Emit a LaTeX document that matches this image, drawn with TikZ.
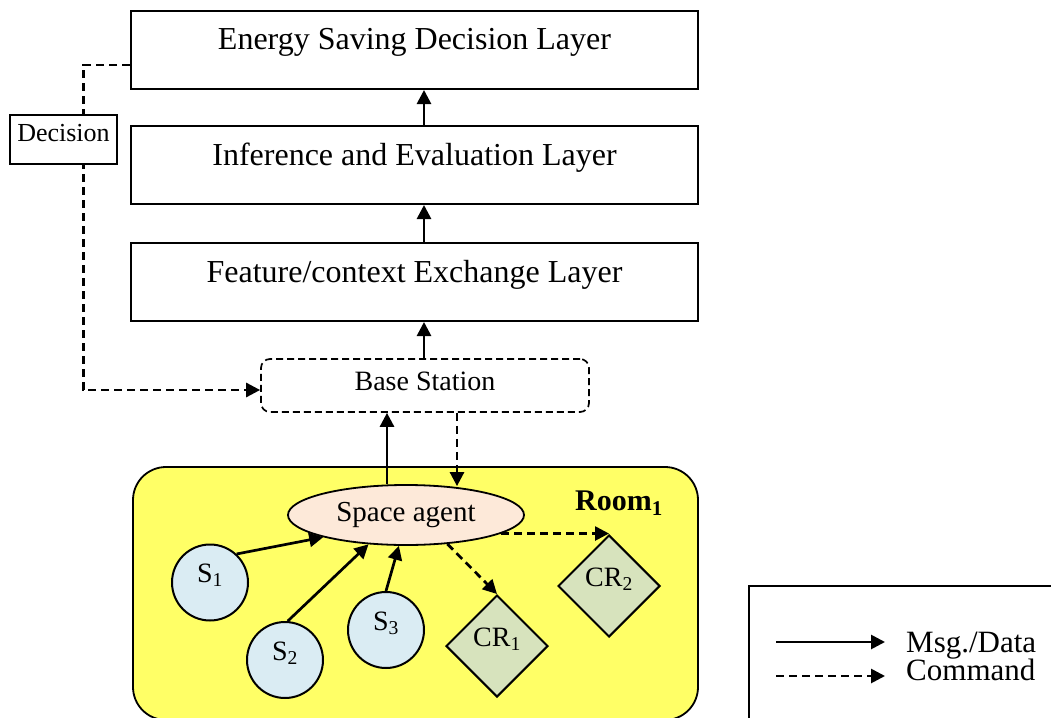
\documentclass[tikz,border=0pt]{standalone}
\usepackage{fontspec}
\setmainfont{Liberation Serif}
\usetikzlibrary{arrows.meta,shapes.geometric}

\definecolor{roomfill}{RGB}{255,255,102}
\definecolor{agentfill}{RGB}{253,233,217}
\definecolor{sensorfill}{RGB}{218,236,243}
\definecolor{ctrlfill}{RGB}{215,227,189}

\tikzset{
  layerbox/.style={draw, line width=2pt, fill=white, minimum width=567pt,
    inner xsep=0pt, inner ysep=0pt, text height=39pt, text depth=39pt,
    font=\fontsize{32}{38}\selectfont},
  stationbox/.style={draw, line width=1.7pt, dash pattern=on 7pt off 4pt,
    rounded corners=9pt, minimum width=328pt, inner xsep=0pt, inner ysep=0pt,
    text height=31pt, text depth=22pt, font=\fontsize{28}{34}\selectfont},
  tagbox/.style={draw, line width=1.8pt, fill=white, minimum width=107pt,
    inner xsep=0pt, inner ysep=0pt, text height=26pt, text depth=23pt,
    font=\fontsize{26}{30}\selectfont},
  agent/.style={draw, line width=1.8pt, fill=agentfill, ellipse,
    minimum width=236pt, minimum height=60pt, inner sep=0pt,
    font=\fontsize{29}{34}\selectfont},
  sensor/.style={draw, line width=2pt, fill=sensorfill, circle,
    minimum size=76pt, inner sep=0pt, text height=0pt, text depth=0pt,
    font=\fontsize{28}{34}\selectfont},
  ctrl/.style={draw, line width=2pt, fill=ctrlfill, diamond,
    minimum width=102pt, minimum height=102pt, inner sep=0pt,
    text height=0pt, text depth=0pt, font=\fontsize{28}{34}\selectfont},
  legendtext/.style={anchor=base west, inner sep=0pt, font=\fontsize{31}{36}\selectfont},
  msg/.style={line width=2.7pt, -{Triangle[length=14pt,width=14pt]}},
  cmd/.style={line width=2.7pt, dash pattern=on 8pt off 5pt,
    -{Triangle[length=14pt,width=14pt]}},
}

\begin{document}
\begin{tikzpicture}[x=1pt,y=-1pt]
\useasboundingbox (0,0) rectangle (1051,717);

% room area (runs past the lower edge)
\draw[line width=1.8pt, fill=roomfill, rounded corners=33pt] (133,467) rectangle (698,720);
\node[anchor=base west, inner sep=0pt, font=\fontsize{30}{36}\selectfont\bfseries]
  (room) at (575,510) {Room\textsubscript{1}};

% layer stack
\node[layerbox] (esd) at (414.5,50) {Energy Saving Decision Layer};
\node[layerbox] (inf) at (414.5,165) {Inference and Evaluation Layer};
\node[layerbox] (feat) at (414.5,282) {Feature/context Exchange Layer};
\node[stationbox, anchor=base] (bs) at (425,390) {Base Station};

% agent, sensors and controllers inside the room
\node[agent] (sa) at (406,515) {Space agent};
\node[sensor] (s1) at (210,582.5) {S\textsubscript{1}};
\node[sensor] (s2) at (285,660) {S\textsubscript{2}};
\node[sensor] (s3) at (386,630) {S\textsubscript{3}};
\node[ctrl] (cr1) at (497,646) {CR\textsubscript{1}};
\node[ctrl] (cr2) at (609,586) {CR\textsubscript{2}};

% upward data flow
\draw[msg] (bs.north -| 424,0) -- (feat.south -| 424,0);
\draw[msg] (feat.north -| 424,0) -- (inf.south -| 424,0);
\draw[msg] (inf.north -| 424,0) -- (esd.south -| 424,0);
\draw[msg] ([xshift=-19pt]sa.north) -- ([xshift=-38pt]bs.south);
\draw[msg] (s1.47) -- (sa.195);
\draw[msg] (s2.86) -- (sa.218);
\draw[msg] (s3.north) -- (sa.257);

% commands
\draw[cmd] ([xshift=32pt]bs.south) -- ([xshift=51pt,yshift=-2pt]sa.north);
\draw[cmd] (sa.-35) -- (cr1.north);
\draw[cmd] (sa.-11.76) -- (cr2.north |- sa.-11.76);
\draw[cmd] ([yshift=-15pt]esd.west) -| ([xshift=-177pt]bs.base west) -- (bs.base west);
\node[tagbox, anchor=base] (dec) at (63.5,141) {Decision};

% legend
\draw[line width=1.8pt] (749,740) |- (1060,586);
\coordinate (m0) at (776,642);
\coordinate (m1) at (885,642);
\coordinate (c0) at (776,676);
\coordinate (c1) at (885,676);
\draw[msg] (m0) -- (m1);
\draw[cmd] (c0) -- (c1);
\node[legendtext] (lmsg) at (906,652) {Msg./Data};
\node[legendtext] (lcmd) at (906,680) {Command};
\end{tikzpicture}
\end{document}
